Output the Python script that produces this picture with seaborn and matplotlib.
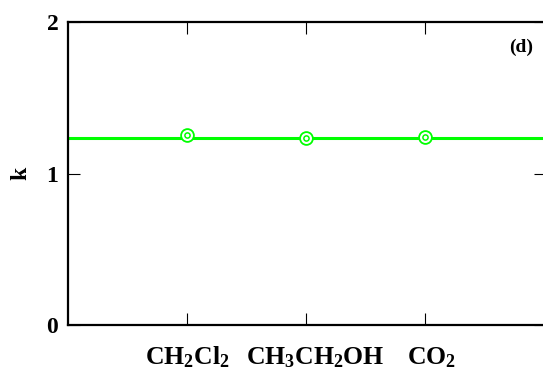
import matplotlib
matplotlib.use("Agg")
import matplotlib.pyplot as plt
import seaborn as sns
import pandas as pd

categories = [r"$\mathbf{CH_2Cl_2}$", r"$\mathbf{CH_3CH_2OH}$", r"$\mathbf{CO_2}$"]
k_values = [1.254, 1.232, 1.241]
k_fit = 1.234
y_ticks = [0, 1, 2]

sns.set_style("ticks")
plt.rcParams["font.family"] = ["Liberation Serif", "DejaVu Serif"]
plt.rcParams["font.weight"] = "bold"
plt.rcParams["text.color"] = "black"
plt.rcParams["axes.labelcolor"] = "black"
plt.rcParams["xtick.color"] = "black"
plt.rcParams["ytick.color"] = "black"
plt.rcParams["mathtext.fontset"] = "custom"
plt.rcParams["mathtext.rm"] = "Liberation Serif:bold"
plt.rcParams["mathtext.bf"] = "Liberation Serif:bold"
plt.rcParams["mathtext.it"] = "Liberation Serif:bold"

df = pd.DataFrame({"cat": categories, "k": k_values})

fig = plt.figure(figsize=(5.43, 3.72), dpi=100)
ax = fig.add_axes([68 / 543, 47 / 372, 478 / 543, 303 / 372])

green = "#00ff00"
ax.axhline(k_fit, color=green, lw=2.2, zorder=1)
sns.scatterplot(data=df, x="cat", y="k", ax=ax, s=85, marker="o",
                facecolor="white", edgecolor=green, linewidth=1.3, zorder=3)
sns.scatterplot(data=df, x="cat", y="k", ax=ax, s=14, marker="o",
                facecolor="white", edgecolor=green, linewidth=1.1, zorder=4)

ax.set_xlim(-1, 3 + 2 / 119)
ax.set_ylim(0, 2)
ax.set_yticks(y_ticks)
ax.set_yticklabels([str(v) for v in y_ticks], fontsize=17, fontweight="bold")
ax.set_xticks(range(len(categories)))
ax.set_xticklabels([""] * len(categories))
ax.set_xlabel("")
ax.set_ylabel("k", fontsize=17, fontweight="bold", labelpad=11)

# category labels; the reference sets the 2nd and 3rd slightly right of their ticks
shifts_pt = [0, 6.5, 5]
for i, (lab, dx) in enumerate(zip(categories, shifts_pt)):
    ax.annotate(lab, xy=(i, 0), xycoords=("data", "axes fraction"),
                xytext=(dx, -28.5), textcoords="offset points",
                ha="center", va="baseline", fontsize=18.5, annotation_clip=False)

for s in ["left", "bottom", "top", "right"]:
    ax.spines[s].set_visible(True)
    ax.spines[s].set_linewidth(1.6)
    ax.spines[s].set_color("black")

ax.tick_params(axis="both", direction="in", length=8.5, width=0.8,
               top=True, right=True, color="black")
ax.tick_params(axis="y", pad=7)

ax.text(0.947, 0.917, "(d)", transform=ax.transAxes, fontsize=14,
        fontweight="bold", ha="center", va="center")

fig.savefig("out.png", dpi=100)
